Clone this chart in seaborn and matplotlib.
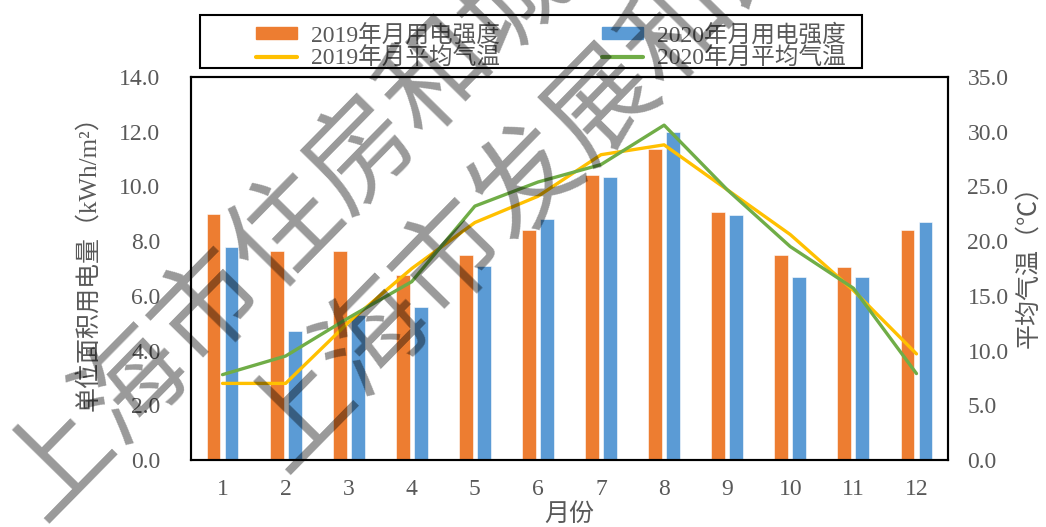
import numpy as np
import pandas as pd
import matplotlib
matplotlib.use("Agg")
import matplotlib.pyplot as plt
from matplotlib.patches import Patch, Rectangle
from matplotlib.lines import Line2D
import seaborn as sns

# ---- data ----
months = ["1", "2", "3", "4", "5", "6", "7", "8", "9", "10", "11", "12"]
use_2019 = [9.0, 7.65, 7.65, 6.75, 7.5, 8.4, 10.4, 11.35, 9.05, 7.5, 7.05, 8.4]
use_2020 = [7.8, 4.7, 5.3, 5.6, 7.1, 8.8, 10.35, 12.0, 8.95, 6.7, 6.7, 8.7]
temp_2019 = [7.0, 7.0, 12.6, 17.5, 21.7, 24.1, 27.9, 28.8, 24.7, 20.6, 15.5, 9.7]
temp_2020 = [7.8, 9.5, 13.0, 16.3, 23.2, 25.4, 27.0, 30.6, 24.7, 19.5, 15.7, 7.9]
series_names = ["2019年月用电强度", "2020年月用电强度", "2019年月平均气温", "2020年月平均气温"]
left_ticks = [0, 2, 4, 6, 8, 10, 12, 14]
right_ticks = [0, 5, 10, 15, 20, 25, 30, 35]
watermark_1 = "上海市住房和城乡建设管理委员会"
watermark_2 = "上海市发展和改革委员会"

C_OR, C_BL, C_YE, C_GR = "#ED7D31", "#5B9BD5", "#FFC000", "#70AD47"
TXT = "#595959"

sns.set_theme(style="white")
plt.rcParams["font.family"] = ["Liberation Serif", "Noto Sans CJK SC", "DejaVu Sans"]

W, H = 1046, 527
fig = plt.figure(figsize=(W / 100, H / 100), dpi=100)
ax = fig.add_axes([191 / W, (H - 460) / H, (948 - 191) / W, (460 - 77) / H])

df = pd.DataFrame({
    "月份": months * 2,
    "value": use_2019 + use_2020,
    "series": [series_names[0]] * 12 + [series_names[1]] * 12,
})
sns.barplot(data=df, x="月份", y="value", hue="series", order=months,
            palette={series_names[0]: C_OR, series_names[1]: C_BL},
            width=0.57, gap=0.23, saturation=1, legend=False, ax=ax,
            edgecolor="white", linewidth=0.4)
ax.set_xlim(-0.5, 11.5)
ax.set_ylim(0, 14)
ax.set_yticks(left_ticks)
ax.set_yticklabels([f"{v:.1f}" for v in left_ticks])
ax.set_xlabel("月份", fontsize=18, color=TXT, labelpad=0,
              family=["Noto Sans CJK SC"])
ax.set_ylabel("单位面积用电量（kWh/m²）", fontsize=18, color=TXT, labelpad=14)
ax.yaxis.label.set_y(0.53)
ax.tick_params(axis="y", length=0, pad=22, labelsize=17, labelcolor=TXT)
ax.tick_params(axis="x", length=0, pad=14, labelsize=17, labelcolor=TXT)

ax2 = ax.twinx()
xpos = np.arange(len(months))
sns.lineplot(x=xpos, y=temp_2019, ax=ax2, color=C_YE, linewidth=2.4)
sns.lineplot(x=xpos, y=temp_2020, ax=ax2, color=C_GR, linewidth=2.4)
ax2.set_ylim(0, 35)
ax2.set_yticks(right_ticks)
ax2.set_yticklabels([f"{v:.1f}" for v in right_ticks])
ax2.set_ylabel("平均气温（℃）", fontsize=18, color=TXT, labelpad=6)
ax2.yaxis.label.set_y(0.52)
ax2.tick_params(axis="y", length=0, pad=14, labelsize=17, labelcolor=TXT)
ax2.set_xlim(-0.5, 11.5)
for a in (ax, ax2):
    for s in a.spines.values():
        s.set_color("black")
        s.set_linewidth(1.5)
    a.grid(False)

handles = [Patch(color=C_OR), Line2D([], [], color=C_YE, lw=3),
           Patch(color=C_BL), Line2D([], [], color=C_GR, lw=3)]
labels = [series_names[0], series_names[2], series_names[1], series_names[3]]
leg = fig.legend(handles, labels, loc="upper left", ncol=2,
                 bbox_to_anchor=(244 / W, 1 - 12 / H), frameon=False,
                 fontsize=17, handlelength=1.75, handleheight=0.45,
                 handletextpad=0.6, columnspacing=4.3, labelspacing=0.05,
                 borderpad=0.0)
for t in leg.get_texts():
    t.set_color(TXT)
fig.patches.append(Rectangle((200 / W, 1 - 68 / H), (862 - 200) / W, 53 / H,
                             transform=fig.transFigure, fill=False,
                             edgecolor="black", linewidth=1.5))

for txt, (x0, y0) in ((watermark_1, (20, 500)), (watermark_2, (262, 452))):
    fig.text(x0 / W, 1 - y0 / H, txt, rotation=45.5, rotation_mode="anchor",
             ha="left", va="center", fontsize=78, color="black", alpha=0.4,
             family=["Noto Sans CJK SC"], zorder=20)

fig.savefig("out.png", dpi=100)
